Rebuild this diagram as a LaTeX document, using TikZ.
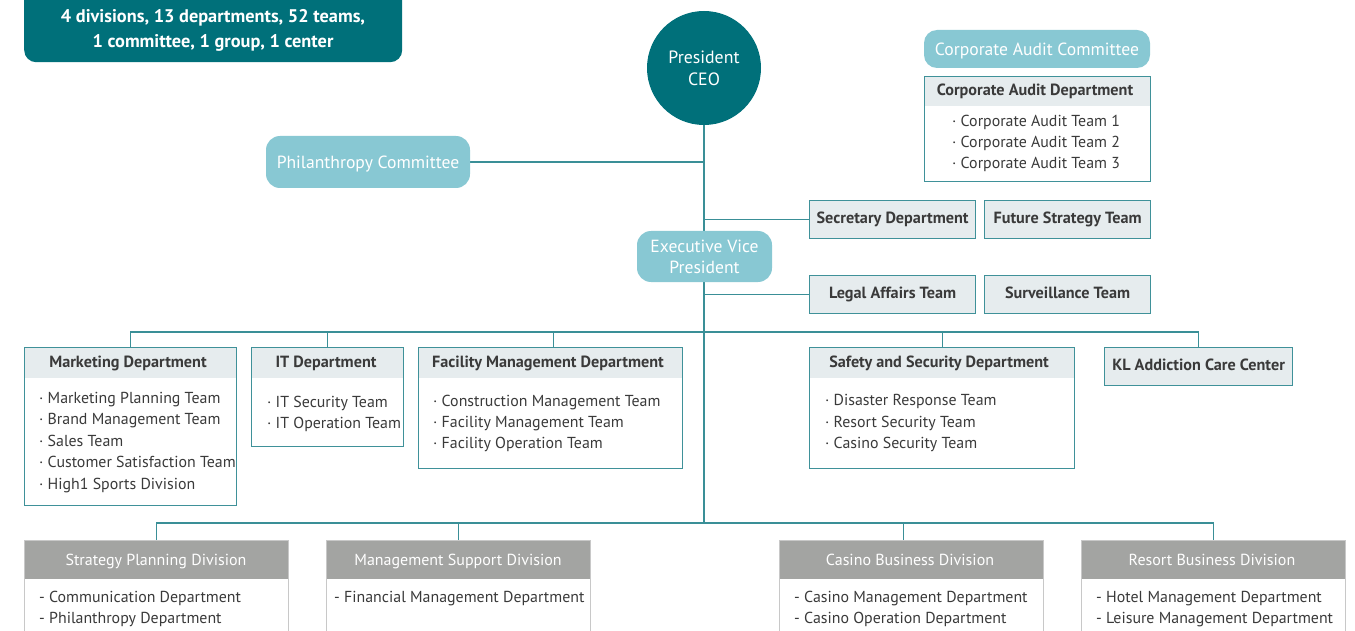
\documentclass[tikz,border=0pt]{standalone}
\usepackage{fontspec}
\setmainfont{PT Sans}
\usetikzlibrary{backgrounds}
\definecolor{darkteal}{HTML}{00707A}
\definecolor{lightteal}{HTML}{88C8D3}
\definecolor{linec}{HTML}{3A8F97}
\definecolor{boxc}{HTML}{3F9199}
\definecolor{hdrc}{HTML}{E6ECEE}
\definecolor{grayh}{HTML}{A3A4A2}
\definecolor{grayb}{HTML}{C8C8C8}
\definecolor{txt}{HTML}{3A3A3A}
\begin{document}
\begin{tikzpicture}[x=1pt,y=-1pt,
  conn/.style={draw=linec, line width=1.2pt},
  capc/.style={text height=11.4pt, text depth=0pt},
  dept/.style={draw=boxc, line width=1.2pt, fill=white, inner sep=0pt, anchor=north west,
    path picture={\fill[hdrc] (path picture bounding box.north west) rectangle ([yshift=-#1]path picture bounding box.north east);}},
  dept/.default=30pt,
  divbox/.style={draw=grayb, line width=1.2pt, fill=white, inner sep=0pt, anchor=north west,
    path picture={\fill[grayh] (path picture bounding box.north west) rectangle ([yshift=-38pt]path picture bounding box.north east);}},
  tagbox/.style={draw=boxc, line width=1.2pt, fill=hdrc, inner sep=0pt, anchor=north west, capc, text depth=3.6pt,
    minimum width=166pt, minimum height=38pt, text=txt, font=\fontsize{16.2}{18}\selectfont\bfseries},
  roundl/.style={fill=lightteal, rounded corners=14pt, inner sep=0pt, text=white, align=center,
    font=\fontsize{17.6}{21}\selectfont},
  hdrtext/.style={text=txt, font=\fontsize{16.2}{18}\selectfont\bfseries, inner sep=0pt, capc},
  items/.style={text=txt, font=\fontsize{15.9}{21.4}\selectfont, align=left, inner sep=0pt, anchor=north west},
  divtitle/.style={text=white, font=\fontsize{16}{18}\selectfont, inner sep=0pt, capc}
]
\useasboundingbox (0,0) rectangle (1355,631);
\clip (0,0) rectangle (1355,631);

% summary box
\node[fill=darkteal, rounded corners=12pt, minimum width=378pt, minimum height=84pt, anchor=north west,
  inner sep=0pt] (summary) at (24,-22) {};
\node[text=white, font=\fontsize{18.3}{25}\selectfont\bfseries, align=center, inner sep=0pt] (summarytext) at (213,30.5)
  {4 divisions, 13 departments, 52 teams,\\1 committee, 1 group, 1 center};

% president
\node[circle, fill=darkteal, minimum size=114pt, inner sep=0pt, text=white, align=center,
  font=\fontsize{17.8}{22}\selectfont] (pres) at (704,68) {President\\CEO};

% committees
\node[roundl, capc, text height=12.4pt, minimum width=204pt, minimum height=52pt] (phil) at (368,162) {Philanthropy Committee};
\node[roundl, capc, text height=12.4pt, minimum width=226pt, minimum height=38pt, rounded corners=13pt] (cac) at (1037,49) {Corporate Audit Committee};
\node[roundl, minimum width=135pt, minimum height=51pt] (evp) at (704.5,256.5) {Executive Vice\\President};

% corporate audit department
\node[dept=29pt, minimum width=226pt, minimum height=105pt] (cad) at (924,76) {};
\node[hdrtext] (cadh) at (1035,89.5) {Corporate Audit Department};
\node[items] (cadi) at (952,114.5) {· Corporate Audit Team 1\\· Corporate Audit Team 2\\· Corporate Audit Team 3};

% tags
\node[tagbox] (sec) at (809,200) {Secretary Department};
\node[tagbox] (fst) at (984,200) {Future Strategy Team};
\node[tagbox] (legal) at (809,275) {Legal Affairs Team};
\node[tagbox] (surv) at (984,275) {Surveillance Team};

% departments
\node[dept, minimum width=212pt, minimum height=158pt] (mkt) at (24,347) {};
\node[hdrtext] (mkth) at (128,361.5) {Marketing Department};
\node[items] (mkti) at (39,392) {· Marketing Planning Team\\· Brand Management Team\\· Sales Team\\· Customer Satisfaction Team\\· High1 Sports Division};

\node[dept, minimum width=152pt, minimum height=99pt] (it) at (251,347) {};
\node[hdrtext] (ith) at (326,361.5) {IT Department};
\node[items] (iti) at (267,395.5) {· IT Security Team\\· IT Operation Team};

\node[dept, minimum width=264pt, minimum height=121pt] (fac) at (418,347) {};
\node[hdrtext] (fach) at (548,361.5) {Facility Management Department};
\node[items] (faci) at (433,394.5) {· Construction Management Team\\· Facility Management Team\\· Facility Operation Team};

\node[dept, minimum width=265pt, minimum height=121pt] (saf) at (809,347) {};
\node[hdrtext] (safh) at (939,361.5) {Safety and Security Department};
\node[items] (safi) at (825,394.5) {· Disaster Response Team\\· Resort Security Team\\· Casino Security Team};

\node[tagbox, minimum width=188pt] (kl) at (1104,347) {KL Addiction Care Center};

% divisions
\node[divbox, minimum width=264pt, minimum height=120pt] (spd) at (24,540) {};
\node[divtitle] (spdh) at (156,559.5) {Strategy Planning Division};
\node[items] (spdi) at (39,591) {- Communication Department\\- Philanthropy Department};

\node[divbox, minimum width=264pt, minimum height=120pt] (msd) at (326,540) {};
\node[divtitle] (msdh) at (458,559.5) {Management Support Division};
\node[items] (msdi) at (334,591) {- Financial Management Department};

\node[divbox, minimum width=264pt, minimum height=120pt] (cbd) at (779,540) {};
\node[divtitle] (cbdh) at (910,559.5) {Casino Business Division};
\node[items] (cbdi) at (794,591) {- Casino Management Department\\- Casino Operation Department};

\node[divbox, minimum width=264pt, minimum height=120pt] (rbd) at (1081,540) {};
\node[divtitle] (rbdh) at (1212,559.5) {Resort Business Division};
\node[items] (rbdi) at (1096,591) {- Hotel Management Department\\- Leisure Management Department};

% connectors
\begin{scope}[on background layer]
\coordinate (b1) at (704,332);
\coordinate (b2) at (704,523);
\draw[conn] (pres.center) -- (b2);
\draw[conn] (phil.east) -- (phil.east -| pres.center);
\draw[conn] (sec.west) -- (sec.west -| pres.center);
\draw[conn] (legal.west) -- (legal.west -| pres.center);
\draw[conn] (mkt.north) -- (mkt.north |- b1) -- (kl.north |- b1) -- (kl.north);
\draw[conn] (it.north) -- (it.north |- b1);
\draw[conn] ([xshift=3pt]fac.north) -- ([xshift=3pt]fac.north |- b1);
\draw[conn] (saf.north) -- (saf.north |- b1);
\draw[conn] (spd.north) -- (spd.north |- b2) -- (rbd.north |- b2) -- (rbd.north);
\draw[conn] (msd.north) -- (msd.north |- b2);
\draw[conn] ([xshift=-8pt]cbd.north) -- ([xshift=-8pt]cbd.north |- b2);
\end{scope}
\end{tikzpicture}
\end{document}
